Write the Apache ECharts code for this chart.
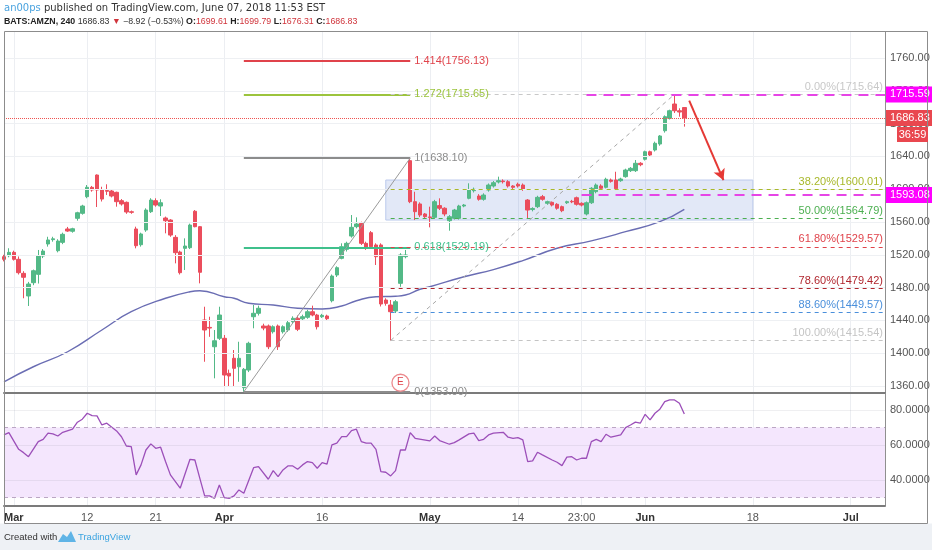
<!DOCTYPE html>
<html>
<head>
<meta charset="utf-8">
<script src="https://cdn.jsdelivr.net/npm/echarts@6.0.0/dist/echarts.min.js"></script>
<style>
  html, body { margin: 0; padding: 0; background: #fff; }
  #chart { width: 932px; height: 550px; }
</style>
</head>
<body>
<div id="chart"></div>
<script>
// AMZN 240 min candles, Mar 1 -> Jun 7 2018: [open, close, low, high]
var candles = [
  [1517.7, 1514.5, 1512, 1520], [1518.9, 1523.0, 1517, 1528], [1523.0, 1514.5, 1513, 1525],
  [1514.5, 1498.2, 1496, 1518], [1497.4, 1492.6, 1467, 1500], [1469.8, 1484.4, 1457.6, 1487],
  [1486.0, 1500.6, 1483, 1502], [1496.2, 1518.5, 1485, 1525.9], [1518.5, 1524.6, 1516, 1527],
  [1533.2, 1538.1, 1530, 1542], [1538.5, 1539.5, 1536, 1542], [1525.0, 1536.8, 1523, 1539],
  [1535.2, 1545.0, 1533, 1547], [1551.5, 1549.0, 1548, 1554], [1548.7, 1551.8, 1547, 1553],
  [1564.5, 1571.3, 1561.6, 1572.5], [1570.6, 1579.5, 1569, 1581], [1590.9, 1602.3, 1589, 1605.1],
  [1602.3, 1599.0, 1597, 1604], [1617.3, 1599.0, 1578.3, 1618], [1599.0, 1588.0, 1585, 1603],
  [1598.5, 1597.5, 1593, 1606], [1597.8, 1591.7, 1590, 1600], [1596.2, 1584.8, 1578.7, 1597],
  [1586.0, 1582.0, 1580, 1588], [1584.0, 1572.2, 1570, 1585], [1572.5, 1571.8, 1570, 1574],
  [1551.5, 1531.1, 1527.9, 1554.3], [1532.3, 1545.4, 1530, 1547], [1550.2, 1574.6, 1548, 1576.7],
  [1572.6, 1586.8, 1571, 1589], [1586.0, 1580.7, 1578.7, 1588.9], [1579.5, 1583.5, 1567.3, 1587.7],
  [1564.9, 1561.6, 1546.2, 1566.6], [1562.4, 1544.1, 1542, 1563.5], [1541.3, 1522.6, 1509.6, 1544],
  [1523.4, 1498.2, 1496, 1525], [1527.9, 1530.7, 1501.5, 1540.1], [1528.7, 1556.3, 1527, 1558],
  [1573.1, 1554.3, 1553.5, 1574.6], [1554.3, 1498.7, 1485.2, 1555], [1440.5, 1428.3, 1389.6, 1456.7],
  [1431.5, 1430.7, 1420, 1444.5], [1407.9, 1415.2, 1369.4, 1428.3], [1418.2, 1446.6, 1416.1, 1456.7],
  [1418.2, 1373.4, 1359.1, 1422.2], [1375.5, 1372.2, 1359, 1380], [1393.8, 1381.6, 1359.1, 1403.9],
  [1383.5, 1393.8, 1365.2, 1414], [1358.0, 1380.4, 1353, 1382], [1379.5, 1412.1, 1377, 1414],
  [1444.5, 1448.7, 1430.4, 1458.8], [1448.7, 1454.8, 1446, 1458], [1433.2, 1430.7, 1428, 1436],
  [1433.2, 1407.9, 1405, 1435], [1426.2, 1432.3, 1424, 1434], [1433.2, 1407.9, 1404, 1435],
  [1426.2, 1432.3, 1424, 1434], [1428.3, 1437.2, 1426, 1440], [1438.4, 1442.6, 1436, 1445],
  [1442.6, 1429.2, 1427, 1446], [1442.0, 1444.5, 1440, 1447], [1443.8, 1450.6, 1442, 1453],
  [1450.6, 1446.6, 1445, 1458], [1446.6, 1432.3, 1429, 1448], [1444.5, 1446.2, 1443, 1448],
  [1445.4, 1442.1, 1440, 1447], [1464.0, 1494.1, 1462, 1496], [1495.4, 1504.3, 1493, 1506],
  [1515.7, 1529.9, 1514.5, 1534], [1526.7, 1534.0, 1524, 1536], [1542.9, 1553.5, 1541, 1568.5],
  [1554.3, 1557.6, 1552.3, 1565.7], [1558.4, 1534.0, 1532, 1560.4], [1534.0, 1528.7, 1526, 1536],
  [1547.0, 1529.9, 1528, 1549], [1532.0, 1517.7, 1507.6, 1534], [1532.0, 1460.0, 1457, 1534],
  [1464.9, 1460.8, 1458, 1467], [1458.8, 1450.6, 1415.5, 1464.9], [1451.5, 1462.8, 1449, 1465],
  [1485.2, 1519.8, 1481, 1522], [1517.7, 1519.8, 1515.7, 1525.9], [1634.8, 1584.8, 1583, 1638.1],
  [1584.8, 1572.6, 1562.4, 1596.9], [1582.0, 1568.5, 1566, 1584], [1569.8, 1566.5, 1564, 1571],
  [1566.2, 1565.5, 1553.5, 1578.7], [1565.7, 1584.8, 1564, 1587], [1580.0, 1576.8, 1574.6, 1588.9],
  [1576.8, 1569.8, 1567, 1578], [1561.6, 1566.5, 1549.4, 1568.5], [1564.5, 1574.6, 1563, 1576],
  [1564.5, 1579.5, 1563, 1581], [1579.5, 1580.7, 1578, 1582], [1588.9, 1599.0, 1587.7, 1607.2],
  [1598.2, 1599.9, 1596, 1602], [1591.7, 1587.7, 1586, 1594], [1587.7, 1592.9, 1586, 1595],
  [1599.0, 1605.1, 1597, 1607], [1603.9, 1607.9, 1602, 1610], [1608.8, 1610.4, 1607, 1615.3],
  [1610.0, 1609.2, 1607, 1612], [1609.2, 1603.9, 1602, 1611], [1603.9, 1602.3, 1600, 1605],
  [1606.0, 1603.9, 1602, 1608], [1605.1, 1599.9, 1598, 1607], [1586.8, 1574.6, 1564.5, 1588],
  [1575.2, 1576.5, 1573, 1578], [1578.7, 1590.1, 1577, 1592], [1590.9, 1587.7, 1586, 1593],
  [1582.8, 1584.8, 1581, 1586], [1584.0, 1580.7, 1579, 1585], [1581.6, 1576.8, 1575, 1583],
  [1578.7, 1573.8, 1572, 1580], [1583.5, 1584.8, 1582, 1586], [1585.2, 1584.6, 1583, 1587],
  [1589.6, 1581.6, 1580, 1591], [1582.8, 1580.7, 1579, 1584], [1569.8, 1583.5, 1568, 1585],
  [1583.5, 1601.1, 1582, 1602.5], [1597.0, 1605.1, 1595, 1607], [1603.9, 1601.1, 1600, 1606],
  [1602.3, 1612.1, 1601, 1614], [1611.2, 1609.6, 1608, 1613], [1611.2, 1600.6, 1599, 1621.3],
  [1610.4, 1612.4, 1609, 1614], [1615.3, 1623.4, 1614, 1625], [1622.6, 1625.5, 1621, 1627],
  [1622.6, 1631.6, 1621, 1635.6], [1631.6, 1629.9, 1628, 1633], [1636.5, 1645.7, 1635, 1647],
  [1645.7, 1641.7, 1640, 1647], [1647.8, 1656.0, 1646, 1658], [1655.1, 1664.9, 1653, 1666],
  [1671.3, 1688.4, 1669, 1690], [1686.5, 1695.7, 1685, 1697], [1703.9, 1695.7, 1693, 1715.6],
  [1695.7, 1694.1, 1688.4, 1698.7], [1699.61, 1686.83, 1676.31, 1699.79]
];

// moving average, read at [bar index, value]
var maPts = [
  [0, 1365.2], [6, 1383.5], [13, 1401.8], [20, 1428.3], [26, 1450.6], [33, 1467.0],
  [38, 1475.0], [40, 1476.2], [45, 1468.9], [47, 1467.0], [50, 1460.9], [55, 1458.8],
  [60, 1454.8], [65, 1453.9], [69, 1457.6], [72, 1464.0], [76, 1468.9], [80, 1469.5],
  [82, 1471.0], [85, 1478.0], [87, 1481.1], [94, 1493.3], [100, 1502.0], [106, 1513.0],
  [113, 1528.0], [120, 1537.0], [127, 1548.2], [134, 1560.4], [139, 1575.5]
];

// RSI, read at [bar index, value]
var rsiPts = [
  [0, 65.7], [1, 67], [3, 57.5], [4, 55.6], [5, 53.3], [7, 61.9], [8, 63.2], [9, 66.7], [10, 66.3],
  [11, 65.1], [12, 67.2], [14, 69], [15, 73], [16, 74.7], [17, 78.1], [18, 76.7], [19, 76.6],
  [20, 71.4], [21, 72.4], [23, 68], [24, 64.7], [25, 59.4], [26, 59], [27, 42.9], [28, 48.6],
  [29, 57.1], [30, 60.6], [31, 58.1], [32, 58.7], [33, 50.5], [34, 42.9], [36, 35.3], [38, 51.8],
  [39, 51.4], [40, 41], [41, 30.9], [42, 30.9], [43, 29.5], [44, 37.1], [45, 29.9], [46, 29.5],
  [47, 30.9], [48, 34.3], [49, 32.4], [51, 47], [52, 47.6], [54, 40.4], [55, 45.3], [56, 41.9],
  [57, 45.7], [58, 48], [59, 48], [60, 46.1], [61, 48.6], [62, 50.5], [63, 49.9], [64, 46.7],
  [65, 49.9], [66, 49.1], [67, 60], [68, 61], [69, 64.7], [70, 64.7], [71, 68.2], [72, 69],
  [73, 61.9], [74, 61], [75, 61], [76, 57.5], [77, 44.8], [78, 44.4], [79, 42.3], [80, 45.3],
  [81, 57.1], [82, 57.1], [83, 67], [84, 63.8], [87, 62.3], [88, 65.1], [89, 62.5], [91, 60.4],
  [92, 61.3], [93, 62.9], [95, 66.3], [96, 66.7], [97, 62.5], [98, 63.2], [99, 65.7], [100, 66.7],
  [102, 67.2], [103, 64.4], [104, 63.8], [105, 64.2], [106, 62.9], [107, 50.5], [108, 50.9],
  [109, 55.8], [110, 54.3], [112, 51.4], [113, 50.1], [114, 48.2], [115, 53], [116, 53.3],
  [117, 51.4], [118, 52.4], [119, 52.4], [120, 61.9], [121, 63.2], [122, 61.9], [123, 66.1],
  [124, 64.4], [126, 65.7], [127, 69.9], [128, 71.4], [129, 73], [130, 72.4], [131, 77.5],
  [132, 74.3], [133, 78.1], [134, 80.4], [135, 84.7], [136, 85.7], [137, 85.7], [138, 83.8],
  [139, 77.7]
];

var barCount = 181; // 140 bars + empty space to the right
var tickIdx = [2, 17, 31, 45, 65, 87, 105, 118, 131, 153, 173];
var tickText = ['Mar', '12', '21', 'Apr', '16', 'May', '14', '23:00', 'Jun', '18', 'Jul'];
var priceTicks = [1360, 1400, 1440, 1480, 1520, 1560, 1600, 1640, 1680, 1720, 1760];
var rsiTicks = [40, 60, 80];

// fib extension (swing 1353 -> 1638.10)
var fibALevels = ['1.414', '1.272', '1', '0.618', '0'];
var fibAValues = [1756.13, 1715.65, 1638.10, 1529.19, 1353.00];
var fibASwing = [[49, 1353.00], [83, 1638.10]];
// fib retracement (swing 1415.54 -> 1715.64)
var fibBLevels = ['0.00%', '38.20%', '50.00%', '61.80%', '78.60%', '88.60%', '100.00%'];
var fibBValues = [1715.64, 1600.01, 1564.79, 1529.57, 1479.42, 1449.57, 1415.54];
var fibBSwing = [[79, 1415.54], [137, 1715.64]];

var boxRange = [[78, 1611.2], [153, 1562.4]];
var levelLines = [[119, 1715.59], [118, 1593.08]];
var lastPrice = 1686.83;
var arrowPts = [[140, 1708], [147, 1611]];
var earningsPt = [81, 1364];

var FONT = 'Liberation Sans, Arial, sans-serif';
var GREEN = '#53b987', RED = '#eb4d5c';
var fibAColors = ['#e0434b', '#9cc43d', '#8c8c8c', '#3fc08c', '#8c8c8c'];
var fibBColors = ['#c8c8c8', '#a8b82a', '#4caf50', '#e0434b', '#b0262e', '#4a8fdb', '#c4c4c4'];

var cats = [];
for (var i = 0; i < barCount; i++) cats.push(String(i));

function isTick(index) { return tickIdx.indexOf(index) >= 0; }
function fmtTick(value, index) {
  var k = tickIdx.indexOf(index);
  if (k < 0) return '';
  var t = tickText[k];
  return /^[A-Z]/.test(t) ? '{m|' + t + '}' : t;
}

var chart = echarts.init(document.getElementById('chart'));

var xBase = {
  type: 'category', data: cats, boundaryGap: false,
  axisLine: { show: true, lineStyle: { color: '#7b7b7b', width: 2 } },
  axisTick: { show: false },
  splitLine: { show: true, interval: isTick, lineStyle: { color: '#eceef2' } }
};

var option = {
  animation: false,
  backgroundColor: '#fff',
  grid: [
    { left: 4, right: 47, top: 32, height: 361 },
    { left: 4, right: 47, top: 394, height: 111.5 }
  ],
  xAxis: [
    Object.assign({}, xBase, { gridIndex: 0, axisLabel: { show: false } }),
    Object.assign({}, xBase, {
      gridIndex: 1,
      axisLabel: {
        interval: isTick, formatter: fmtTick, color: '#555', fontSize: 11, fontFamily: FONT, margin: 7,
        rich: { m: { fontWeight: 'bold', color: '#333', fontSize: 11, fontFamily: FONT } }
      }
    })
  ],
  yAxis: [
    { type: 'value', gridIndex: 0, position: 'right', min: 1351.5, max: 1791.7,
      axisLine: { show: true, lineStyle: { color: '#8f8f8f' } }, axisTick: { show: false },
      axisLabel: { show: false }, splitLine: { show: false } },
    { type: 'value', gridIndex: 1, position: 'right', min: 25.4, max: 89.1,
      axisLine: { show: true, lineStyle: { color: '#8f8f8f' } }, axisTick: { show: false },
      axisLabel: { show: false }, splitLine: { show: false } }
  ],
  series: [
    // price grid, labels and the range box
    {
      type: 'line', xAxisIndex: 0, yAxisIndex: 0, data: [], z: 1, silent: true,
      markArea: {
        silent: true,
        itemStyle: { color: 'rgba(60,100,200,0.15)', borderColor: '#bccaec', borderWidth: 1 },
        data: [[{ coord: boxRange[0] }, { coord: boxRange[1] }]]
      },
      markLine: {
        silent: true, symbol: ['none', 'none'],
        lineStyle: { color: '#eef0f3', type: 'solid', width: 1 },
        label: { position: 'end', color: '#555', fontSize: 11, fontFamily: FONT, distance: 5 },
        data: priceTicks.map(function (v) { return { yAxis: v, label: { formatter: v.toFixed(2) } }; })
      }
    },
    {
      type: 'candlestick', xAxisIndex: 0, yAxisIndex: 0, data: candles, barWidth: 4, z: 3,
      itemStyle: { color: GREEN, color0: RED, borderColor: GREEN, borderColor0: RED, borderWidth: 1 }
    },
    {
      type: 'line', xAxisIndex: 0, yAxisIndex: 0, data: maPts, smooth: true, showSymbol: false,
      symbol: 'none', z: 2, lineStyle: { color: '#6a6db3', width: 1.4 }
    },
    // fib extension
    {
      type: 'line', xAxisIndex: 0, yAxisIndex: 0, data: [], z: 4, silent: true,
      markLine: {
        silent: true, symbol: ['none', 'none'],
        label: { position: 'end', fontSize: 11, fontFamily: FONT, distance: 4 },
        data: fibAValues.map(function (v, i) {
          return [{ coord: [fibASwing[0][0], v], lineStyle: { color: fibAColors[i], width: 2, type: 'solid' },
                    label: { formatter: fibALevels[i] + '(' + v.toFixed(2) + ')', color: fibAColors[i] } },
                  { coord: [fibASwing[1][0], v] }];
        }).concat([[
          { coord: fibASwing[0], lineStyle: { color: '#9a9a9a', width: 1, type: 'solid' }, label: { show: false } },
          { coord: fibASwing[1] }
        ]])
      }
    },
    // fib retracement
    {
      type: 'line', xAxisIndex: 0, yAxisIndex: 0, data: [], z: 4, silent: true,
      markLine: {
        silent: true, symbol: ['none', 'none'],
        label: { position: 'insideEndTop', fontSize: 11, fontFamily: FONT, distance: 2 },
        data: fibBValues.map(function (v, i) {
          return [{ coord: [fibBSwing[0][0], v], lineStyle: { color: fibBColors[i], width: 1, type: [4, 4] },
                    label: { formatter: fibBLevels[i] + '(' + v.toFixed(2) + ')', color: fibBColors[i] } },
                  { coord: [barCount - 1, v] }];
        }).concat([[
          { coord: fibBSwing[0], lineStyle: { color: '#a8a8a8', width: 1, type: [4, 4] }, label: { show: false } },
          { coord: fibBSwing[1] }
        ]])
      }
    },
    // horizontal levels, last price and tags
    {
      type: 'line', xAxisIndex: 0, yAxisIndex: 0, data: [], z: 10, silent: true,
      markLine: {
        silent: true, symbol: ['none', 'none'],
        label: { position: 'end', distance: 1, color: '#fff', fontSize: 11, fontFamily: FONT, padding: [3, 4, 2, 4] },
        data: levelLines.map(function (p) {
          return [{ coord: p, lineStyle: { color: '#e645e6', width: 2, type: [10, 7] },
                    label: { formatter: p[1].toFixed(2), backgroundColor: '#ff00ff' } },
                  { coord: [barCount - 1, p[1]] }];
        }).concat([{
          yAxis: lastPrice, lineStyle: { color: '#ef5350', width: 1, type: 'dotted' },
          label: { formatter: lastPrice.toFixed(2), backgroundColor: '#e9474f' }
        }])
      },
      markPoint: {
        silent: true,
        data: [{ coord: earningsPt, symbol: 'circle', symbolSize: 17,
                 itemStyle: { color: '#fff', borderColor: '#ec8a8e', borderWidth: 1.3 },
                 label: { show: true, formatter: 'E', color: '#e0434b', fontSize: 10, fontFamily: FONT } }]
      }
    },
    // arrow
    {
      type: 'line', xAxisIndex: 0, yAxisIndex: 0, data: [], z: 10, silent: true,
      markLine: {
        silent: true, symbol: ['none', 'arrow'], symbolSize: [9, 11],
        lineStyle: { color: '#e53935', width: 2, type: 'solid' }, label: { show: false },
        data: [[{ coord: arrowPts[0] }, { coord: arrowPts[1] }]]
      }
    },
    // RSI pane
    {
      type: 'line', xAxisIndex: 1, yAxisIndex: 1, data: [], z: 1, silent: true,
      markArea: { silent: true, itemStyle: { color: '#f4e6fd' }, data: [[{ yAxis: 70 }, { yAxis: 30 }]] }
    },
    {
      type: 'line', xAxisIndex: 1, yAxisIndex: 1, data: [], z: 2, silent: true,
      markLine: {
        silent: true, symbol: ['none', 'none'],
        label: { position: 'end', color: '#555', fontSize: 11, fontFamily: FONT, distance: 5 },
        data: rsiTicks.map(function (v) {
          return { yAxis: v, lineStyle: { color: 'rgba(120,120,140,0.12)', width: 1, type: 'solid' },
                   label: { formatter: v.toFixed(4) } };
        }).concat([70, 30].map(function (v) {
          return { yAxis: v, lineStyle: { color: '#bba6c4', width: 1, type: [4, 4] }, label: { show: false } };
        }))
      }
    },
    {
      type: 'line', xAxisIndex: 1, yAxisIndex: 1, data: rsiPts, showSymbol: false, symbol: 'none', z: 3,
      lineStyle: { color: '#9c4fb9', width: 1.3 }
    }
  ],
  graphic: [
    { id: 'foot', type: 'rect', shape: { x: 0, y: 523.5, width: 932, height: 27 }, style: { fill: '#eef1f5' }, z: 0 },
    { id: 'frame', type: 'rect', shape: { x: 4.5, y: 31.5, width: 923, height: 492 },
      style: { fill: null, stroke: '#8c8c8c', lineWidth: 1 }, z: 20 },
    { id: 'h1', type: 'text', x: 4, y: 8,
      style: { text: '{u|an00ps} published on TradingView.com, June 07, 2018 11:53 EST',
               fill: '#333', fontSize: 10, fontFamily: 'DejaVu Sans', verticalAlign: 'middle',
               rich: { u: { fill: '#4aa3df', fontSize: 10, fontFamily: 'DejaVu Sans' } } } },
    { id: 'h2', type: 'text', x: 4, y: 22,
      style: { text: '{b|BATS:AMZN, 240} 1686.83 {r|▼} −8.92 (−0.53%) {b|O:}{r|1699.61} {b|H:}{r|1699.79} {b|L:}{r|1676.31} {b|C:}{r|1686.83}',
               fill: '#333', fontSize: 8.8, fontFamily: FONT, verticalAlign: 'middle',
               rich: { b: { fontWeight: 'bold', fill: '#222', fontSize: 8.8, fontFamily: FONT },
                       r: { fill: '#d0343b', fontSize: 8.8, fontFamily: FONT } } } },
    { id: 'f1', type: 'text', x: 4, y: 537,
      style: { text: 'Created with', fill: '#333', fontSize: 9.5, fontFamily: FONT, verticalAlign: 'middle' } },
    { id: 'logo', type: 'polygon',
      shape: { points: [[58, 542], [63, 534], [67, 537], [71, 531], [76, 542]] },
      style: { fill: '#5fb4e6' } },
    { id: 'f2', type: 'text', x: 78, y: 537,
      style: { text: 'TradingView', fill: '#3ba4e0', fontSize: 9.5, fontFamily: FONT, verticalAlign: 'middle' } }
  ]
};

chart.setOption(option);

// countdown tag under the last price tag
var yLast = chart.convertToPixel({ yAxisIndex: 0 }, lastPrice);
chart.setOption({
  graphic: [
    { id: 'cdBox', type: 'rect', shape: { x: 897, y: yLast + 9, width: 31, height: 15 }, style: { fill: '#e9474f' }, z: 30 },
    { id: 'cdTxt', type: 'text', x: 912.5, y: yLast + 16.5, z: 31,
      style: { text: '36:59', fill: '#fff', fontSize: 11, fontFamily: FONT, align: 'center', verticalAlign: 'middle' } }
  ]
});
</script>
</body>
</html>
